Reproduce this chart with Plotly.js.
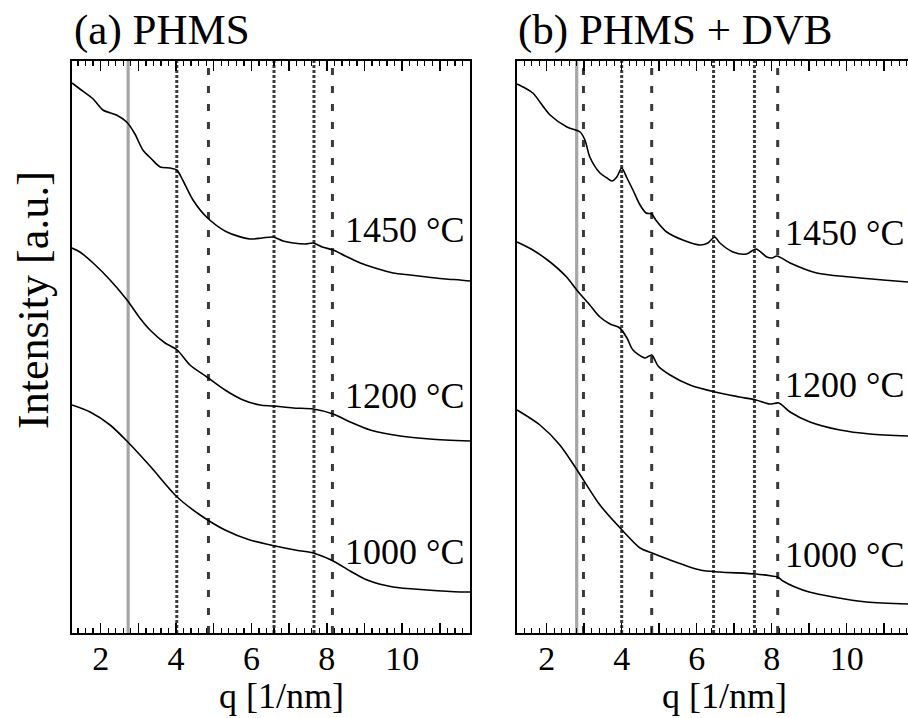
<!DOCTYPE html>
<html>
<head>
<meta charset="utf-8">
<script src="https://cdn.plot.ly/plotly-3.0.1.min.js"></script>
<style>html,body{margin:0;padding:0;background:#fff;overflow:hidden}#chart{width:908px;height:718px}</style>
</head>
<body>
<div id="chart"></div>
<script>
// ---- data: panel (a) PHMS ----
const qA1450 = [1.24,1.45,1.80,2.06,2.42,2.69,2.91,3.12,3.35,3.58,3.84,4.02,4.19,4.45,4.81,5.35,5.96,6.28,6.58,6.84,7.11,7.43,7.64,7.88,8.17,8.49,8.89,9.28,9.76,10.21,10.66,11.14,11.54,11.80];
const iA1450 = [550,544,534,523,518,511,499,483,474,466,465,463,452,433,416,401,394,395,396,392,390,389,390,386,383,377,370,365,360,358,356,354,353,352];
const qA1200 = [1.24,1.45,1.80,2.25,2.70,3.04,3.31,3.71,4.03,4.37,4.82,5.30,5.78,6.23,6.58,7.11,7.64,8.17,8.62,9.15,9.95,10.74,11.80];
const iA1200 = [385,381,370,353,333,315,303,290,283,268,256,243,233,228,227,225,224,219,211,203,197,194,192];
const qA1000 = [1.24,1.72,2.25,2.72,3.31,4.03,4.64,5.30,5.96,6.63,7.16,7.64,8.17,8.62,9.07,9.76,10.66,11.54,11.80];
const iA1000 = [228,221,208,191,167,136,118,103,93,87,83,80,72,62,53,46,43,41,41];
// ---- data: panel (b) PHMS + DVB ----
const qB1450 = [1.21,1.42,1.63,2.09,2.54,2.89,3.02,3.15,3.42,3.61,3.74,3.87,4.00,4.14,4.30,4.49,4.65,4.80,4.91,5.20,5.63,6.09,6.30,6.48,6.62,6.97,7.33,7.58,7.87,8.01,8.14,8.49,9.20,10.09,10.97,11.64];
const iB1450 = [549,545,540,518,506,501,493,476,460,455,452,456,465,455,443,428,420,419,413,401,393,388,390,396,390,381,379,384,376,375,377,370,360,356,353,351];
const qB1200 = [1.21,1.63,2.09,2.53,2.80,3.15,3.42,3.69,3.95,4.14,4.30,4.62,4.80,4.97,5.29,5.82,6.49,7.15,7.58,7.95,8.19,8.49,9.02,9.82,10.62,11.64];
const iB1200 = [391,383,371,356,343,328,316,309,305,295,283,275,278,267,258,248,241,236,233,229,230,221,211,203,199,197];
const qB1000 = [1.21,1.82,2.35,2.81,3.42,4.01,4.49,4.81,5.29,6.09,6.62,7.58,8.00,8.16,8.30,8.62,9.00,9.64,10.53,11.64];
const iB1000 = [223,208,188,163,128,103,85,80,73,63,61,59,57,56,52,46,41,36,31,29];
// curve labels
const tempLabels = ['1450 °C','1200 °C','1000 °C'];
// reference lines (q in 1/nm)
const refA_q = [2.73,4.02,4.86,6.60,7.66,8.15];
const refA_kind = ['solid','dot','dash','dot','dot','dash'];
const refB_q = [2.80,2.98,4.00,4.80,6.45,7.54,8.16];
const refB_kind = ['solid','dash','dot','dash','dot','dot','dash'];
// x tick labels
const tickVals = [2,3,4,5,6,7,8,9,10,11];
const tickText = ['2','','4','','6','','8','','10',''];

const serif = "'Liberation Serif', 'Times New Roman', serif";
const lineStyle = {color:'#000', width:1.6, shape:'spline', smoothing:0.8};
function tr(q, i, xa, ya){ return {x:q, y:i, xaxis:xa, yaxis:ya, type:'scatter', mode:'lines', line:lineStyle, hoverinfo:'skip'}; }
const data = [
  tr(qA1450,iA1450,'x','y'), tr(qA1200,iA1200,'x','y'), tr(qA1000,iA1000,'x','y'),
  tr(qB1450,iB1450,'x2','y2'), tr(qB1200,iB1200,'x2','y2'), tr(qB1000,iB1000,'x2','y2')
];
const styles = {
  solid:{color:'#a6a6a6', width:3.2, dash:'solid'},
  dot:{color:'#3a3a3a', width:3, dash:'3px,2px'},
  dash:{color:'#3a3a3a', width:3, dash:'7px,11px'}
};
const shapes = [];
refA_q.forEach((q,k)=>shapes.push({type:'line', xref:'x', yref:'y domain', x0:q, x1:q, y0:0, y1:1, layer:'below', line:styles[refA_kind[k]]}));
refB_q.forEach((q,k)=>shapes.push({type:'line', xref:'x2', yref:'y2 domain', x0:q, x1:q, y0:0, y1:1, layer:'below', line:styles[refB_kind[k]]}));

function xax(domain, range, anchor){
  return {domain:domain, range:range, anchor:anchor, showline:true, linewidth:2, linecolor:'#000', mirror:'allticks',
    ticks:'inside', ticklen:10, tickwidth:1.5, tickcolor:'#000', tickvals:tickVals, ticktext:tickText,
    ticklabelstandoff:-6,
    tickfont:{family:serif, size:34, color:'#000'}, showgrid:false, zeroline:false,
    minor:{dtick:0.2, tick0:0, ticks:'inside', ticklen:5, tickwidth:1.3, tickcolor:'#000', showgrid:false}};
}
function yax(anchor, mirror){
  return {domain:[85/718, 657/718], range:[0,572], anchor:anchor, showline:true, linewidth:2, linecolor:'#000', mirror:mirror,
    ticks:'', showticklabels:false, showgrid:false, zeroline:false};
}
const annFont = {family:serif, size:36, color:'#000'};
const annotations = [
  {text:'(a) PHMS', xref:'paper', yref:'paper', x:72/908, y:(718-30)/718, xanchor:'left', yanchor:'middle', showarrow:false, font:{family:serif, size:43, color:'#000'}},
  {text:'(b) PHMS + DVB', xref:'paper', yref:'paper', x:516/908, y:(718-30)/718, xanchor:'left', yanchor:'middle', showarrow:false, font:{family:serif, size:43, color:'#000'}},
  {text:'Intensity [a.u.]', xref:'paper', yref:'paper', x:33/908, y:(718-300)/718, xanchor:'center', yanchor:'middle', textangle:-90, showarrow:false, font:{family:serif, size:44, color:'#000'}},
  {text:'q [1/nm]', xref:'paper', yref:'paper', x:281/908, y:0, xanchor:'center', yanchor:'bottom', showarrow:false, font:{family:serif, size:36, color:'#000'}},
  {text:'q [1/nm]', xref:'paper', yref:'paper', x:724/908, y:0, xanchor:'center', yanchor:'bottom', showarrow:false, font:{family:serif, size:36, color:'#000'}},
  {text:tempLabels[0], xref:'x', yref:'y', x:8.43, y:403, xanchor:'left', yanchor:'middle', showarrow:false, font:annFont},
  {text:tempLabels[1], xref:'x', yref:'y', x:8.43, y:237, xanchor:'left', yanchor:'middle', showarrow:false, font:annFont},
  {text:tempLabels[2], xref:'x', yref:'y', x:8.43, y:81, xanchor:'left', yanchor:'middle', showarrow:false, font:annFont},
  {text:tempLabels[0], xref:'x2', yref:'y2', x:8.30, y:400, xanchor:'left', yanchor:'middle', showarrow:false, font:annFont},
  {text:tempLabels[1], xref:'x2', yref:'y2', x:8.30, y:248, xanchor:'left', yanchor:'middle', showarrow:false, font:annFont},
  {text:tempLabels[2], xref:'x2', yref:'y2', x:8.30, y:78, xanchor:'left', yanchor:'middle', showarrow:false, font:annFont}
];
const layout = {
  width:908, height:718, margin:{l:0,r:0,t:0,b:0}, paper_bgcolor:'#fff', plot_bgcolor:'#fff', showlegend:false,
  xaxis:xax([72/908, 470/908],[1.24,11.8],'y'),
  yaxis:yax('x', true),
  xaxis2:xax([516.7/908, 1],[1.2,11.635],'y2'),
  yaxis2:yax('x2', false),
  shapes:shapes, annotations:annotations
};
Plotly.newPlot('chart', data, layout, {staticPlot:true, displayModeBar:false});
</script>
</body>
</html>
